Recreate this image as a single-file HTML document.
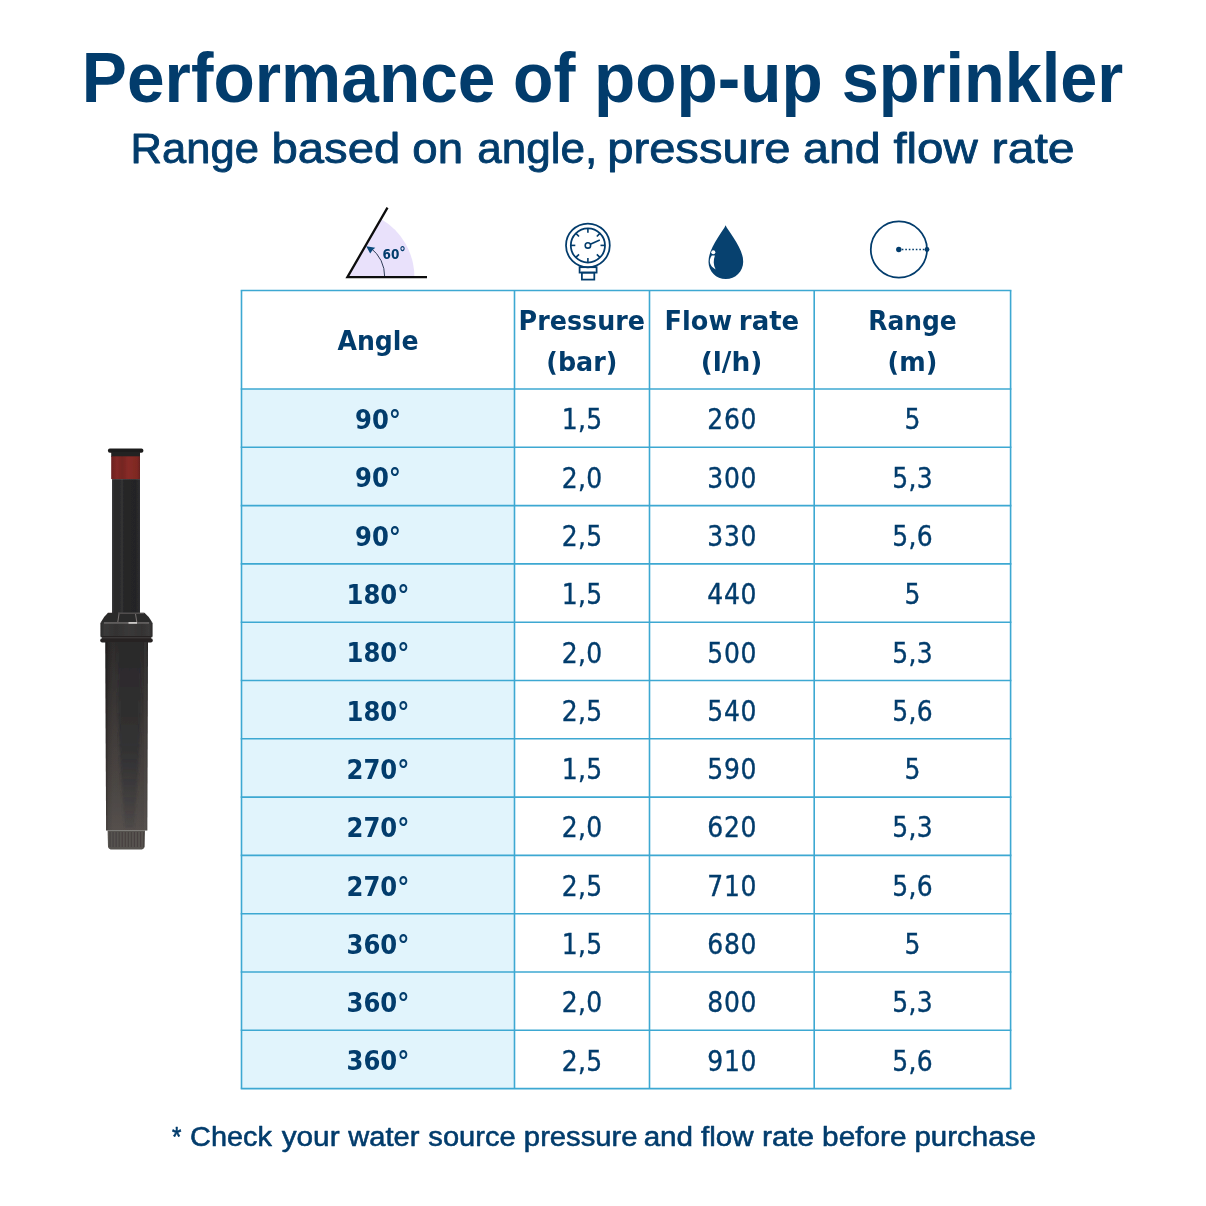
<!DOCTYPE html>
<html lang="en"><head><meta charset="utf-8"><title>Performance of pop-up sprinkler</title>
<style>
html,body{margin:0;padding:0;background:#fff;}
svg{display:block}
text{font-family:"Liberation Sans",sans-serif;fill:#023c6c}
.os{font-family:"DejaVu Sans Condensed","DejaVu Sans","Liberation Sans",sans-serif;font-stretch:condensed}
</style></head><body>
<svg width="1206" height="1206" viewBox="0 0 1206 1206">
<rect width="1206" height="1206" fill="#fff"/>

<text x="81.86" y="101.60" font-size="69.6" font-weight="700" textLength="413.60" lengthAdjust="spacingAndGlyphs">Performance</text>
<text x="513.10" y="101.60" font-size="69.6" font-weight="700" textLength="62.42" lengthAdjust="spacingAndGlyphs">of</text>
<text x="594.12" y="101.60" font-size="69.6" font-weight="700" textLength="228.61" lengthAdjust="spacingAndGlyphs">pop-up</text>
<text x="841.68" y="101.60" font-size="69.6" font-weight="700" textLength="281.60" lengthAdjust="spacingAndGlyphs">sprinkler</text>
<text x="130.61" y="163.20" font-size="43.3" font-weight="400" textLength="128.25" lengthAdjust="spacingAndGlyphs" stroke="#023c6c" stroke-width="0.85" stroke-linejoin="round">Range</text>
<text x="271.44" y="163.20" font-size="43.3" font-weight="400" textLength="128.80" lengthAdjust="spacingAndGlyphs" stroke="#023c6c" stroke-width="0.85" stroke-linejoin="round">based</text>
<text x="412.37" y="163.20" font-size="43.3" font-weight="400" textLength="50.69" lengthAdjust="spacingAndGlyphs" stroke="#023c6c" stroke-width="0.85" stroke-linejoin="round">on</text>
<text x="477.21" y="163.20" font-size="43.3" font-weight="400" textLength="120.05" lengthAdjust="spacingAndGlyphs" stroke="#023c6c" stroke-width="0.85" stroke-linejoin="round">angle,</text>
<text x="607.25" y="163.20" font-size="43.3" font-weight="400" textLength="183.30" lengthAdjust="spacingAndGlyphs" stroke="#023c6c" stroke-width="0.85" stroke-linejoin="round">pressure</text>
<text x="803.05" y="163.20" font-size="43.3" font-weight="400" textLength="77.66" lengthAdjust="spacingAndGlyphs" stroke="#023c6c" stroke-width="0.85" stroke-linejoin="round">and</text>
<text x="893.42" y="163.20" font-size="43.3" font-weight="400" textLength="84.35" lengthAdjust="spacingAndGlyphs" stroke="#023c6c" stroke-width="0.85" stroke-linejoin="round">flow</text>
<text x="991.60" y="163.20" font-size="43.3" font-weight="400" textLength="83.08" lengthAdjust="spacingAndGlyphs" stroke="#023c6c" stroke-width="0.85" stroke-linejoin="round">rate</text>
<rect x="241.5" y="389.0" width="273.0" height="699.6" fill="#e1f4fc"/>
<line x1="241.5" y1="290.5" x2="241.5" y2="1088.6" stroke="#3da8d2" stroke-width="1.6"/>
<line x1="514.5" y1="290.5" x2="514.5" y2="1088.6" stroke="#3da8d2" stroke-width="1.6"/>
<line x1="649.5" y1="290.5" x2="649.5" y2="1088.6" stroke="#3da8d2" stroke-width="1.6"/>
<line x1="814.2" y1="290.5" x2="814.2" y2="1088.6" stroke="#3da8d2" stroke-width="1.6"/>
<line x1="1010.6" y1="290.5" x2="1010.6" y2="1088.6" stroke="#3da8d2" stroke-width="1.6"/>
<line x1="240.7" y1="290.5" x2="1011.4" y2="290.5" stroke="#3da8d2" stroke-width="1.6"/>
<line x1="240.7" y1="389.0" x2="1011.4" y2="389.0" stroke="#3da8d2" stroke-width="1.6"/>
<line x1="240.7" y1="447.3" x2="1011.4" y2="447.3" stroke="#3da8d2" stroke-width="1.6"/>
<line x1="240.7" y1="505.6" x2="1011.4" y2="505.6" stroke="#3da8d2" stroke-width="1.6"/>
<line x1="240.7" y1="563.9" x2="1011.4" y2="563.9" stroke="#3da8d2" stroke-width="1.6"/>
<line x1="240.7" y1="622.2" x2="1011.4" y2="622.2" stroke="#3da8d2" stroke-width="1.6"/>
<line x1="240.7" y1="680.5" x2="1011.4" y2="680.5" stroke="#3da8d2" stroke-width="1.6"/>
<line x1="240.7" y1="738.8" x2="1011.4" y2="738.8" stroke="#3da8d2" stroke-width="1.6"/>
<line x1="240.7" y1="797.1" x2="1011.4" y2="797.1" stroke="#3da8d2" stroke-width="1.6"/>
<line x1="240.7" y1="855.4" x2="1011.4" y2="855.4" stroke="#3da8d2" stroke-width="1.6"/>
<line x1="240.7" y1="913.7" x2="1011.4" y2="913.7" stroke="#3da8d2" stroke-width="1.6"/>
<line x1="240.7" y1="972.0" x2="1011.4" y2="972.0" stroke="#3da8d2" stroke-width="1.6"/>
<line x1="240.7" y1="1030.3" x2="1011.4" y2="1030.3" stroke="#3da8d2" stroke-width="1.6"/>
<line x1="240.7" y1="1088.6" x2="1011.4" y2="1088.6" stroke="#3da8d2" stroke-width="1.6"/>
<text x="337.50" y="350.20" font-size="27.4" font-weight="700" textLength="81.03" lengthAdjust="spacingAndGlyphs" class="os">Angle</text>
<text x="518.64" y="330.40" font-size="27.4" font-weight="700" textLength="126.30" lengthAdjust="spacingAndGlyphs" class="os">Pressure</text>
<text x="664.62" y="330.40" font-size="27.4" font-weight="700" textLength="67.47" lengthAdjust="spacingAndGlyphs" class="os">Flow</text>
<text x="738.89" y="330.40" font-size="27.4" font-weight="700" textLength="60.36" lengthAdjust="spacingAndGlyphs" class="os">rate</text>
<text x="868.28" y="330.40" font-size="27.4" font-weight="700" textLength="88.45" lengthAdjust="spacingAndGlyphs" class="os">Range</text>
<text x="546.34" y="371.20" font-size="27.4" font-weight="700" textLength="70.96" lengthAdjust="spacingAndGlyphs" class="os">(bar)</text>
<text x="700.65" y="371.20" font-size="27.4" font-weight="700" textLength="61.70" lengthAdjust="spacingAndGlyphs" class="os">(l/h)</text>
<text x="887.64" y="371.20" font-size="27.4" font-weight="700" textLength="49.66" lengthAdjust="spacingAndGlyphs" class="os">(m)</text>
<text x="378.0" y="429.1" font-size="27" font-weight="700" text-anchor="middle" class="os">90°</text>
<text x="582.15" y="429.3" font-size="27.8" text-anchor="middle" class="os" letter-spacing="0.3" stroke="#023c6c" stroke-width="0.35">1,5</text>
<text x="732.23" y="429.3" font-size="27.8" text-anchor="middle" class="os" letter-spacing="0.75" stroke="#023c6c" stroke-width="0.35">260</text>
<text x="912.40" y="429.3" font-size="27.8" text-anchor="middle" class="os" letter-spacing="0" stroke="#023c6c" stroke-width="0.35">5</text>
<text x="378.0" y="487.4" font-size="27" font-weight="700" text-anchor="middle" class="os">90°</text>
<text x="582.15" y="487.6" font-size="27.8" text-anchor="middle" class="os" letter-spacing="0.3" stroke="#023c6c" stroke-width="0.35">2,0</text>
<text x="732.23" y="487.6" font-size="27.8" text-anchor="middle" class="os" letter-spacing="0.75" stroke="#023c6c" stroke-width="0.35">300</text>
<text x="912.55" y="487.6" font-size="27.8" text-anchor="middle" class="os" letter-spacing="0.3" stroke="#023c6c" stroke-width="0.35">5,3</text>
<text x="378.0" y="545.8" font-size="27" font-weight="700" text-anchor="middle" class="os">90°</text>
<text x="582.15" y="546.0" font-size="27.8" text-anchor="middle" class="os" letter-spacing="0.3" stroke="#023c6c" stroke-width="0.35">2,5</text>
<text x="732.23" y="546.0" font-size="27.8" text-anchor="middle" class="os" letter-spacing="0.75" stroke="#023c6c" stroke-width="0.35">330</text>
<text x="912.55" y="546.0" font-size="27.8" text-anchor="middle" class="os" letter-spacing="0.3" stroke="#023c6c" stroke-width="0.35">5,6</text>
<text x="378.0" y="604.0" font-size="27" font-weight="700" text-anchor="middle" class="os">180°</text>
<text x="582.15" y="604.2" font-size="27.8" text-anchor="middle" class="os" letter-spacing="0.3" stroke="#023c6c" stroke-width="0.35">1,5</text>
<text x="732.23" y="604.2" font-size="27.8" text-anchor="middle" class="os" letter-spacing="0.75" stroke="#023c6c" stroke-width="0.35">440</text>
<text x="912.40" y="604.2" font-size="27.8" text-anchor="middle" class="os" letter-spacing="0" stroke="#023c6c" stroke-width="0.35">5</text>
<text x="378.0" y="662.3" font-size="27" font-weight="700" text-anchor="middle" class="os">180°</text>
<text x="582.15" y="662.5" font-size="27.8" text-anchor="middle" class="os" letter-spacing="0.3" stroke="#023c6c" stroke-width="0.35">2,0</text>
<text x="732.23" y="662.5" font-size="27.8" text-anchor="middle" class="os" letter-spacing="0.75" stroke="#023c6c" stroke-width="0.35">500</text>
<text x="912.55" y="662.5" font-size="27.8" text-anchor="middle" class="os" letter-spacing="0.3" stroke="#023c6c" stroke-width="0.35">5,3</text>
<text x="378.0" y="720.6" font-size="27" font-weight="700" text-anchor="middle" class="os">180°</text>
<text x="582.15" y="720.9" font-size="27.8" text-anchor="middle" class="os" letter-spacing="0.3" stroke="#023c6c" stroke-width="0.35">2,5</text>
<text x="732.23" y="720.9" font-size="27.8" text-anchor="middle" class="os" letter-spacing="0.75" stroke="#023c6c" stroke-width="0.35">540</text>
<text x="912.55" y="720.9" font-size="27.8" text-anchor="middle" class="os" letter-spacing="0.3" stroke="#023c6c" stroke-width="0.35">5,6</text>
<text x="378.0" y="778.9" font-size="27" font-weight="700" text-anchor="middle" class="os">270°</text>
<text x="582.15" y="779.1" font-size="27.8" text-anchor="middle" class="os" letter-spacing="0.3" stroke="#023c6c" stroke-width="0.35">1,5</text>
<text x="732.23" y="779.1" font-size="27.8" text-anchor="middle" class="os" letter-spacing="0.75" stroke="#023c6c" stroke-width="0.35">590</text>
<text x="912.40" y="779.1" font-size="27.8" text-anchor="middle" class="os" letter-spacing="0" stroke="#023c6c" stroke-width="0.35">5</text>
<text x="378.0" y="837.2" font-size="27" font-weight="700" text-anchor="middle" class="os">270°</text>
<text x="582.15" y="837.4" font-size="27.8" text-anchor="middle" class="os" letter-spacing="0.3" stroke="#023c6c" stroke-width="0.35">2,0</text>
<text x="732.23" y="837.4" font-size="27.8" text-anchor="middle" class="os" letter-spacing="0.75" stroke="#023c6c" stroke-width="0.35">620</text>
<text x="912.55" y="837.4" font-size="27.8" text-anchor="middle" class="os" letter-spacing="0.3" stroke="#023c6c" stroke-width="0.35">5,3</text>
<text x="378.0" y="895.5" font-size="27" font-weight="700" text-anchor="middle" class="os">270°</text>
<text x="582.15" y="895.7" font-size="27.8" text-anchor="middle" class="os" letter-spacing="0.3" stroke="#023c6c" stroke-width="0.35">2,5</text>
<text x="732.23" y="895.7" font-size="27.8" text-anchor="middle" class="os" letter-spacing="0.75" stroke="#023c6c" stroke-width="0.35">710</text>
<text x="912.55" y="895.7" font-size="27.8" text-anchor="middle" class="os" letter-spacing="0.3" stroke="#023c6c" stroke-width="0.35">5,6</text>
<text x="378.0" y="953.8" font-size="27" font-weight="700" text-anchor="middle" class="os">360°</text>
<text x="582.15" y="954.0" font-size="27.8" text-anchor="middle" class="os" letter-spacing="0.3" stroke="#023c6c" stroke-width="0.35">1,5</text>
<text x="732.23" y="954.0" font-size="27.8" text-anchor="middle" class="os" letter-spacing="0.75" stroke="#023c6c" stroke-width="0.35">680</text>
<text x="912.40" y="954.0" font-size="27.8" text-anchor="middle" class="os" letter-spacing="0" stroke="#023c6c" stroke-width="0.35">5</text>
<text x="378.0" y="1012.1" font-size="27" font-weight="700" text-anchor="middle" class="os">360°</text>
<text x="582.15" y="1012.3" font-size="27.8" text-anchor="middle" class="os" letter-spacing="0.3" stroke="#023c6c" stroke-width="0.35">2,0</text>
<text x="732.23" y="1012.3" font-size="27.8" text-anchor="middle" class="os" letter-spacing="0.75" stroke="#023c6c" stroke-width="0.35">800</text>
<text x="912.55" y="1012.3" font-size="27.8" text-anchor="middle" class="os" letter-spacing="0.3" stroke="#023c6c" stroke-width="0.35">5,3</text>
<text x="378.0" y="1070.4" font-size="27" font-weight="700" text-anchor="middle" class="os">360°</text>
<text x="582.15" y="1070.6" font-size="27.8" text-anchor="middle" class="os" letter-spacing="0.3" stroke="#023c6c" stroke-width="0.35">2,5</text>
<text x="732.23" y="1070.6" font-size="27.8" text-anchor="middle" class="os" letter-spacing="0.75" stroke="#023c6c" stroke-width="0.35">910</text>
<text x="912.55" y="1070.6" font-size="27.8" text-anchor="middle" class="os" letter-spacing="0.3" stroke="#023c6c" stroke-width="0.35">5,6</text>
<text x="171.88" y="1145.60" font-size="27.0" font-weight="400" textLength="9.41" lengthAdjust="spacingAndGlyphs" stroke="#023c6c" stroke-width="0.55" stroke-linejoin="round">*</text>
<text x="190.11" y="1145.60" font-size="27.0" font-weight="400" textLength="81.78" lengthAdjust="spacingAndGlyphs" stroke="#023c6c" stroke-width="0.55" stroke-linejoin="round">Check</text>
<text x="281.67" y="1145.60" font-size="27.0" font-weight="400" textLength="57.94" lengthAdjust="spacingAndGlyphs" stroke="#023c6c" stroke-width="0.55" stroke-linejoin="round">your</text>
<text x="348.25" y="1145.60" font-size="27.0" font-weight="400" textLength="71.16" lengthAdjust="spacingAndGlyphs" stroke="#023c6c" stroke-width="0.55" stroke-linejoin="round">water</text>
<text x="428.38" y="1145.60" font-size="27.0" font-weight="400" textLength="87.35" lengthAdjust="spacingAndGlyphs" stroke="#023c6c" stroke-width="0.55" stroke-linejoin="round">source</text>
<text x="523.89" y="1145.60" font-size="27.0" font-weight="400" textLength="113.73" lengthAdjust="spacingAndGlyphs" stroke="#023c6c" stroke-width="0.55" stroke-linejoin="round">pressure</text>
<text x="643.68" y="1145.60" font-size="27.0" font-weight="400" textLength="49.36" lengthAdjust="spacingAndGlyphs" stroke="#023c6c" stroke-width="0.55" stroke-linejoin="round">and</text>
<text x="700.98" y="1145.60" font-size="27.0" font-weight="400" textLength="52.60" lengthAdjust="spacingAndGlyphs" stroke="#023c6c" stroke-width="0.55" stroke-linejoin="round">flow</text>
<text x="761.95" y="1145.60" font-size="27.0" font-weight="400" textLength="52.11" lengthAdjust="spacingAndGlyphs" stroke="#023c6c" stroke-width="0.55" stroke-linejoin="round">rate</text>
<text x="822.07" y="1145.60" font-size="27.0" font-weight="400" textLength="84.58" lengthAdjust="spacingAndGlyphs" stroke="#023c6c" stroke-width="0.55" stroke-linejoin="round">before</text>
<text x="914.48" y="1145.60" font-size="27.0" font-weight="400" textLength="121.35" lengthAdjust="spacingAndGlyphs" stroke="#023c6c" stroke-width="0.55" stroke-linejoin="round">purchase</text>
<g id="icon-angle">
<path d="M347.4 277.1 L414.4 277.1 A67 67 0 0 0 380.9 219.1 Z" fill="#e9e1fb"/>
<path d="M384.7 277.1 A37.3 37.3 0 0 0 370.4 247.7" fill="none" stroke="#1b2a44" stroke-width="0.9"/>
<path d="M366.2 246.2 L375.3 247.8 L372.6 250.0 L370.2 253.6 Z" fill="#0b4a7d"/>
<path d="M387.5 207.6 L347.4 277.1 L427.0 277.1" fill="none" stroke="#0d0d0d" stroke-width="2.3" stroke-linejoin="miter"/>
<text x="382.6" y="259.4" font-size="14.5" font-weight="700" class="os" textLength="16.8" lengthAdjust="spacingAndGlyphs">60</text>
<text x="399.3" y="257.3" font-size="14.5" font-weight="700" class="os">°</text>
</g>
<g id="icon-gauge" fill="none" stroke="#023c6c" stroke-width="1.75" stroke-linecap="butt">
<circle cx="587.9" cy="245.4" r="21.9"/>
<circle cx="587.9" cy="245.4" r="17.1"/>
<line x1="604.90" y1="245.40" x2="600.50" y2="245.40" stroke-width="1.6"/>
<line x1="599.92" y1="257.42" x2="596.81" y2="254.31" stroke-width="1.6"/>
<line x1="587.90" y1="262.40" x2="587.90" y2="258.00" stroke-width="1.6"/>
<line x1="575.88" y1="257.42" x2="578.99" y2="254.31" stroke-width="1.6"/>
<line x1="570.90" y1="245.40" x2="575.30" y2="245.40" stroke-width="1.6"/>
<line x1="575.88" y1="233.38" x2="578.99" y2="236.49" stroke-width="1.6"/>
<line x1="587.90" y1="228.40" x2="587.90" y2="232.80" stroke-width="1.6"/>
<line x1="599.92" y1="233.38" x2="596.81" y2="236.49" stroke-width="1.6"/>
<circle cx="587.9" cy="245.4" r="2.7" stroke-width="1.6"/>
<line x1="590.3" y1="244.3" x2="599.8" y2="240.1" stroke-width="1.6"/>
<rect x="579.6" y="267.2" width="17" height="5.4"/>
<rect x="581.9" y="272.6" width="12.4" height="7"/>
</g>
<g id="icon-drop">
<path d="M725.6 225.2 C728.2 231.5 743.2 247.5 743.2 261.7 C743.2 271.3 735.4 279.1 725.8 279.1 C716.2 279.1 708.5 271.3 708.5 261.7 C708.5 247.5 723 231.5 725.6 225.2 Z" fill="#07416f"/>
<circle cx="713.3" cy="252.3" r="2.05" fill="#fff"/>
<path d="M711.8 255.6 L714.9 255.6 C713.3 260 713.2 265 715.6 269.4 C709.8 266.5 708 261 711.8 255.6 Z" fill="#fff"/>
</g>
<g id="icon-range">
<circle cx="898.9" cy="249.4" r="28.1" fill="none" stroke="#023c6c" stroke-width="1.75"/>
<circle cx="898.8" cy="249.5" r="2.7" fill="#023c6c"/>
<circle cx="927" cy="249.5" r="2.4" fill="#023c6c"/>
<line x1="901.8" y1="249.5" x2="925" y2="249.5" stroke="#023c6c" stroke-width="1.5" stroke-dasharray="1.6 1.9"/>
</g>
<defs>
<linearGradient id="gStem" x1="0" x2="1" y1="0" y2="0">
<stop offset="0" stop-color="#3b3b3c"/><stop offset="0.08" stop-color="#29292a"/><stop offset="0.3" stop-color="#2c2c2d"/><stop offset="0.36" stop-color="#353536"/><stop offset="0.42" stop-color="#262627"/><stop offset="0.85" stop-color="#242425"/><stop offset="1" stop-color="#303031"/>
</linearGradient>
<linearGradient id="gRed" x1="0" x2="1" y1="0" y2="0">
<stop offset="0" stop-color="#6a2220"/><stop offset="0.2" stop-color="#832926"/><stop offset="0.38" stop-color="#742522"/><stop offset="0.6" stop-color="#882b27"/><stop offset="0.9" stop-color="#7e2822"/><stop offset="1" stop-color="#65211f"/>
</linearGradient>
<linearGradient id="gBodyV" x1="0" x2="0" y1="0" y2="1">
<stop offset="0" stop-color="#282626"/><stop offset="0.25" stop-color="#302d2c"/><stop offset="0.5" stop-color="#3b3634"/><stop offset="0.8" stop-color="#47423f"/><stop offset="1" stop-color="#504b48"/>
</linearGradient>
<linearGradient id="gBodyH" x1="0" x2="1" y1="0" y2="0">
<stop offset="0" stop-color="#000" stop-opacity="0.35"/><stop offset="0.06" stop-color="#000" stop-opacity="0.05"/><stop offset="0.2" stop-color="#fff" stop-opacity="0.03"/><stop offset="0.9" stop-color="#fff" stop-opacity="0.02"/><stop offset="1" stop-color="#000" stop-opacity="0.2"/>
</linearGradient>
<linearGradient id="gCollar" x1="0" x2="1" y1="0" y2="0">
<stop offset="0" stop-color="#2b2a2a"/><stop offset="0.08" stop-color="#3a3939"/><stop offset="0.3" stop-color="#333232"/><stop offset="0.55" stop-color="#3a3939"/><stop offset="0.8" stop-color="#343333"/><stop offset="0.93" stop-color="#3b3a3a"/><stop offset="1" stop-color="#2b2a2a"/>
</linearGradient>
<linearGradient id="gWedge" x1="0" x2="0" y1="0" y2="1">
<stop offset="0" stop-color="#2b2a2b" stop-opacity="1"/><stop offset="0.55" stop-color="#303032" stop-opacity="0.95"/><stop offset="1" stop-color="#38373a" stop-opacity="0.25"/>
</linearGradient>
<filter id="soft2" x="-30%" y="-5%" width="160%" height="110%"><feGaussianBlur stdDeviation="1.3"/></filter>
<clipPath id="bodyClip"><path d="M105.3 642 L148 642 L147.3 830.6 L106.1 830.6 Z"/></clipPath>
<filter id="soft" x="-10%" y="-5%" width="120%" height="110%"><feGaussianBlur stdDeviation="0.45"/></filter>
</defs>
<g id="sprinkler" filter="url(#soft)">
<rect x="107.9" y="448.4" width="35.5" height="4.4" rx="2" fill="#1f1e1e"/>
<rect x="111.2" y="452" width="28.8" height="5" fill="#222121"/>
<rect x="111.2" y="456.3" width="28.8" height="22.8" fill="url(#gRed)"/>
<rect x="112" y="479.1" width="28" height="134" fill="url(#gStem)"/>
<path d="M108 612.8 L144.4 612.8 Q149.5 616.8 152.3 622.5 L100.7 622.5 Q103.5 616.8 108 612.8 Z" fill="#2c2a2a"/>
<rect x="118" y="612.6" width="26" height="1.1" fill="#8c8a89" opacity="0.55"/>
<path d="M119 614 L117.8 622 M135.5 614 L136.8 622" stroke="#8a8785" stroke-width="0.8" fill="none"/>
<rect x="100.4" y="622" width="52.2" height="15.6" rx="1.5" fill="url(#gCollar)"/>
<rect x="104" y="622.2" width="45" height="1.5" fill="#777473" opacity="0.8"/>
<rect x="128.5" y="622" width="8.5" height="1.8" fill="#d6d4d2" opacity="0.9"/>
<rect x="102" y="636" width="49" height="4" fill="#252323"/><rect x="100.2" y="638.2" width="52.6" height="4.2" rx="2" fill="#252323"/>
<rect x="102" y="637.4" width="49" height="0.9" fill="#5a5756" opacity="0.7"/>
<path d="M105.3 642 L148 642 L147.3 830.6 L106.1 830.6 Z" fill="url(#gBodyV)"/>
<path d="M105.3 642 L148 642 L147.3 830.6 L106.1 830.6 Z" fill="url(#gBodyH)"/>
<g clip-path="url(#bodyClip)"><path d="M117.5 640 L141.5 640 C141.5 720 138 790 134 828 L125 828 C121 790 117.5 720 117.5 640 Z" fill="url(#gWedge)" filter="url(#soft2)"/></g>
<path d="M107.6 830.4 L145 830.4 L144.6 846.5 Q144.4 849.6 140 849.6 L112.5 849.6 Q108.2 849.6 108 846.5 Z" fill="#57524f"/>
<rect x="109.50" y="832" width="1.1" height="15" fill="#3f3b39" opacity="0.7"/>
<rect x="112.55" y="832" width="1.1" height="15" fill="#3f3b39" opacity="0.7"/>
<rect x="115.60" y="832" width="1.1" height="15" fill="#3f3b39" opacity="0.7"/>
<rect x="118.65" y="832" width="1.1" height="15" fill="#3f3b39" opacity="0.7"/>
<rect x="121.70" y="832" width="1.1" height="15" fill="#3f3b39" opacity="0.7"/>
<rect x="124.75" y="832" width="1.1" height="15" fill="#3f3b39" opacity="0.7"/>
<rect x="127.80" y="832" width="1.1" height="15" fill="#3f3b39" opacity="0.7"/>
<rect x="130.85" y="832" width="1.1" height="15" fill="#3f3b39" opacity="0.7"/>
<rect x="133.90" y="832" width="1.1" height="15" fill="#3f3b39" opacity="0.7"/>
<rect x="136.95" y="832" width="1.1" height="15" fill="#3f3b39" opacity="0.7"/>
<rect x="140.00" y="832" width="1.1" height="15" fill="#3f3b39" opacity="0.7"/>
<rect x="143.05" y="832" width="1.1" height="15" fill="#3f3b39" opacity="0.7"/>
</g>
</svg></body></html>
